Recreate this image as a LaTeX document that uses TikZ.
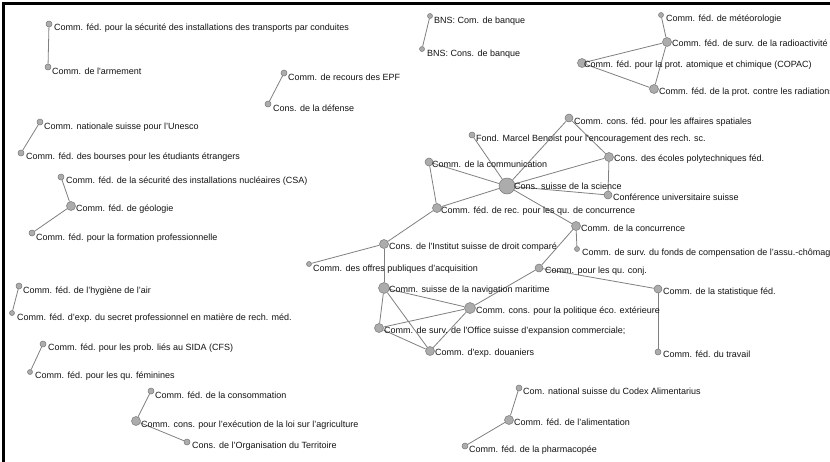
\documentclass[tikz,border=0pt]{standalone}
\usepackage{fontspec}
\setmainfont{Liberation Sans}[Ligatures=TeXOff]
\usetikzlibrary{backgrounds}
\definecolor{edgec}{RGB}{128,128,128}
\definecolor{nodefill}{RGB}{172,172,172}
\definecolor{nodeline}{RGB}{120,120,120}
\definecolor{txt}{RGB}{20,20,20}
\tikzset{
  gn/.style={circle, draw=nodeline, fill=nodefill, line width=0.5pt, inner sep=0pt},
  gl/.style={anchor=base west, inner sep=0pt, text=txt, font=\fontsize{9}{10}\selectfont},
  ge/.style={draw=edgec, line width=0.8pt},
  borderline/.style={draw=black, line width=2.5pt, line cap=rect},
}
\newcommand\gnode[7]{%
  \node[gn, minimum size=#4pt] (#1) at (#2,#3) {};
  \node[gl] (#1-l) at (#5,#6+3.2) {#7};
}
\begin{document}
\begin{tikzpicture}[x=1pt, y=-1pt]
\useasboundingbox (0,0) rectangle (830,461);
\coordinate (fbl) at (3.5,461);
\coordinate (ftl) at (3.5,3.5);
\coordinate (ftr) at (830,3.5);

\gnode{transp}{49}{24}{6}{54}{27}{Comm. féd. pour la sécurité des installations des transports par conduites}
\gnode{armem}{48}{67}{6}{52}{71}{Comm. de l'armement}
\gnode{recours}{284}{73}{6}{288}{77}{Comm. de recours des EPF}
\gnode{defense}{268}{104}{6}{273}{108}{Cons. de la défense}
\gnode{unesco}{40}{122}{6}{44}{126}{Comm. nationale suisse pour l’Unesco}
\gnode{bourses}{21}{153}{6}{26}{156}{Comm. féd. des bourses pour les étudiants étrangers}
\gnode{bnsa}{430}{16}{5}{434}{20}{BNS: Com. de banque}
\gnode{bnsb}{422}{49}{5}{427}{53}{BNS: Cons. de banque}
\gnode{meteo}{661}{15}{5}{666}{18}{Comm. féd. de météorologie}
\gnode{radio}{667}{42}{9}{672}{43}{Comm. féd. de surv. de la radioactivité}
\gnode{copac}{582}{63}{9}{584}{64}{Comm. féd. pour la prot. atomique et chimique (COPAC)}
\gnode{radiat}{654}{89}{9}{659}{91}{Comm. féd. de la prot. contre les radiations}
\gnode{spatial}{569}{118}{8}{574}{121}{Comm. cons. féd. pour les affaires spatiales}
\gnode{benoist}{472}{135}{6}{476}{138}{Fond. Marcel Benoist pour l'encouragement des rech. sc.}
\gnode{ecoles}{609}{157}{9}{614}{158}{Cons. des écoles polytechniques féd.}
\gnode{commu}{429}{162}{8}{432}{164}{Comm. de la communication}
\gnode{suisse}{507}{186}{16}{514}{186}{Cons. suisse de la science}
\gnode{confu}{608}{195}{8}{613}{197}{Conférence universitaire suisse}
\gnode{rec}{437}{208}{9}{441}{210}{Comm. féd. de rec. pour les qu. de concurrence}
\gnode{concur}{576}{226}{9}{581}{228}{Comm. de la concurrence}
\gnode{fonds}{577}{249}{5}{582}{252}{Comm. de surv. du fonds de compensation de l’assu.-chômage}
\gnode{quconj}{539}{268}{8}{545}{270}{Comm. pour les qu. conj.}
\gnode{stat}{658}{289}{8}{663}{291}{Comm. de la statistique féd.}
\gnode{polit}{470}{308}{11}{476}{310}{Comm. cons. pour la politique éco. extérieure}
\gnode{inst}{384}{244}{9}{389}{246}{Cons. de l'Institut suisse de droit comparé}
\gnode{offres}{309}{264}{5}{313}{268}{Comm. des offres publiques d’acquisition}
\gnode{navig}{384}{288}{11}{389}{289}{Comm. suisse de la navigation maritime}
\gnode{office}{379}{328}{9}{384}{330}{Comm. de surv. de l'Office suisse d’expansion commerciale;}
\gnode{douan}{430}{351}{9}{435}{352}{Comm. d'exp. douaniers}
\gnode{travail}{658}{352}{6}{663}{354}{Comm. féd. du travail}
\gnode{csa}{61}{177}{6}{66}{180}{Comm. féd. de la sécurité des installations nucléaires (CSA)}
\gnode{geol}{71}{206}{9}{76}{208}{Comm. féd. de géologie}
\gnode{form}{32}{233}{6}{36}{237}{Comm. féd. pour la formation professionnelle}
\gnode{hyg}{19}{286}{6}{23}{290}{Comm. féd. de l’hygiène de l’air}
\gnode{secret}{12}{313}{5}{17}{317}{Comm. féd. d’exp. du secret professionnel en matière de rech. méd.}
\gnode{sida}{43}{344}{6}{48}{347}{Comm. féd. pour les prob. liés au SIDA (CFS)}
\gnode{fem}{30}{372}{5}{35}{375}{Comm. féd. pour les qu. féminines}
\gnode{conso}{151}{391}{6}{155}{395}{Comm. féd. de la consommation}
\gnode{agri}{136}{421}{9}{141}{424}{Comm. cons. pour l’exécution de la loi sur l’agriculture}
\gnode{terr}{187}{442}{6}{192}{445}{Cons. de l’Organisation du Territoire}
\gnode{codex}{519}{388}{6}{523}{391}{Com. national suisse du Codex Alimentarius}
\gnode{alim}{509}{420}{9}{514}{422}{Comm. féd. de l’alimentation}
\gnode{pharma}{465}{446}{6}{469}{449}{Comm. féd. de la pharmacopée}

\begin{scope}[on background layer]
\fill[white] (0,0) rectangle (830,461);
\foreach \a/\b in {transp/armem, recours/defense, unesco/bourses, bnsa/bnsb,
  meteo/radio, radio/copac, radio/radiat, copac/radiat,
  csa/geol, geol/form, hyg/secret, sida/fem, conso/agri, agri/terr,
  codex/alim, alim/pharma,
  benoist/suisse, spatial/suisse, spatial/ecoles, ecoles/suisse, ecoles/confu,
  commu/suisse, commu/rec, suisse/confu, suisse/rec, suisse/concur,
  rec/inst, inst/offres, inst/navig, navig/polit, navig/office, navig/douan,
  office/polit, office/douan, douan/polit, polit/quconj, quconj/concur,
  quconj/stat, stat/travail, concur/fonds}
  \draw[ge] (\a) -- (\b);
\end{scope}
\draw[borderline] (fbl) -- (ftl) -- (ftr);
\end{tikzpicture}
\end{document}
